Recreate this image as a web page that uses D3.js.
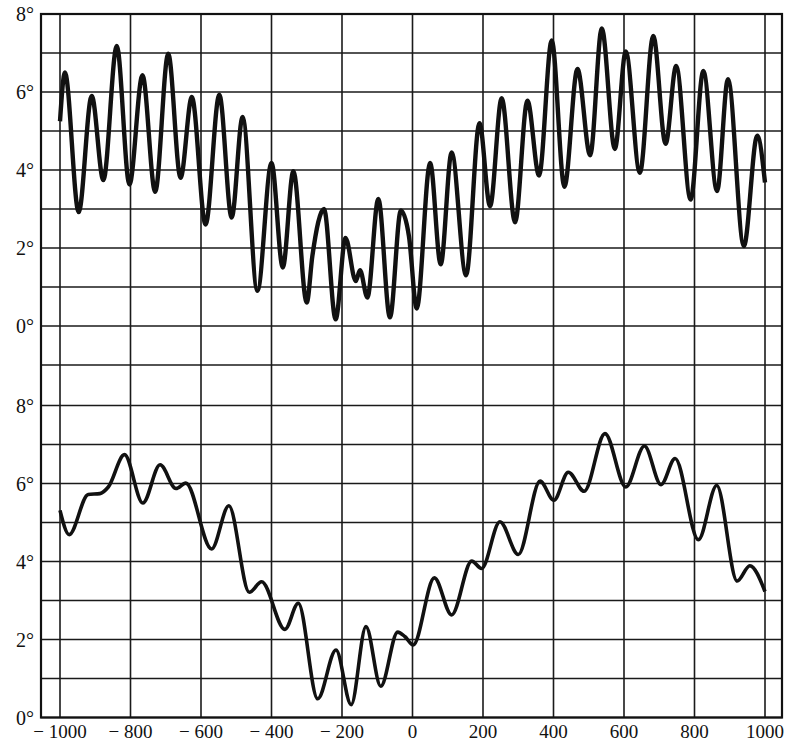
<!DOCTYPE html>
<html>
<head>
<meta charset="utf-8">
<script src="https://cdn.jsdelivr.net/npm/d3@7"></script>
<style>
  html, body { margin: 0; padding: 0; background: #fff; }
  svg { display: block; }
  text { font-family: "Liberation Serif", "DejaVu Serif", serif; fill: #111; }
</style>
</head>
<body>
<svg id="chart" width="800" height="747"></svg>
<script>
// ---------- data ----------
const xTickValues = [-1000, -800, -600, -400, -200, 0, 200, 400, 600, 800, 1000];
const xTickLabels = ["\u2212 1000", "\u2212 800", "\u2212 600", "\u2212 400", "\u2212 200", "0", "200", "400", "600", "800", "1000"];
const yTickValues = [0, 2, 4, 6, 8];
const yTickLabels = ["0\u00B0", "2\u00B0", "4\u00B0", "6\u00B0", "8\u00B0"];

// upper curve: year, degrees
const topYears = [-1000, -986, -947, -910, -877, -839, -803, -766, -730, -693, -658, -626, -587, -548, -513, -482, -440, -400, -368, -338, -300, -284, -251, -218, -190, -161, -149, -128, -97, -64, -33, -10, 12, 50, 80, 111, 152, 190, 220, 253, 291, 326, 359, 395, 431, 468, 504, 537, 574, 605, 645, 683, 718, 748, 789, 825, 864, 895, 940, 978, 1000];
const topValues = [5.25, 6.5, 2.92, 5.9, 3.74, 7.18, 3.63, 6.43, 3.44, 6.98, 3.8, 5.87, 2.6, 5.93, 2.78, 5.36, 0.9, 4.18, 1.5, 3.97, 0.6, 1.8, 3.0, 0.17, 2.26, 1.15, 1.43, 0.73, 3.26, 0.22, 2.96, 2.3, 0.45, 4.18, 1.58, 4.45, 1.3, 5.2, 3.07, 5.84, 2.66, 5.78, 3.86, 7.32, 3.57, 6.59, 4.38, 7.63, 4.54, 7.04, 3.93, 7.44, 4.67, 6.67, 3.24, 6.54, 3.46, 6.33, 2.05, 4.88, 3.68];

// lower curve: year, degrees
const bottomYears = [-1000, -974, -920, -887, -863, -817, -765, -716, -671, -643, -570, -521, -463, -428, -362, -324, -269, -217, -174, -132, -90, -42, -21, 2, 62, 111, 168, 196, 248, 300, 362, 401, 442, 487, 546, 605, 658, 705, 745, 811, 863, 921, 957, 1000];
const bottomValues = [5.31, 4.69, 5.72, 5.74, 5.91, 6.74, 5.5, 6.48, 5.87, 6.01, 4.32, 5.43, 3.21, 3.48, 2.26, 2.93, 0.48, 1.73, 0.33, 2.33, 0.8, 2.19, 2.07, 1.86, 3.58, 2.63, 4.01, 3.82, 5.02, 4.18, 6.06, 5.57, 6.29, 5.8, 7.28, 5.91, 6.96, 5.97, 6.64, 4.56, 5.95, 3.5, 3.89, 3.23];

// ---------- layout ----------
const svg = d3.select("#chart");
const x = d3.scaleLinear().domain([-1000, 1000]).range([60, 765]);
const yTop = d3.scaleLinear().domain([0, 8]).range([326, 14]);
const yBot = d3.scaleLinear().domain([0, 8]).range([717.5, 405.5]);
const frameLeft = 41, frameRight = 782, frameTop = yTop(8), frameBottom = yBot(0);

const grid = svg.append("g").attr("stroke", "#1a1a1a").attr("stroke-width", 1.6);

// horizontal grid lines
const hLines = [];
d3.range(0, 9).forEach(v => hLines.push(yTop(v)));
hLines.push(yTop(-1));
d3.range(0, 9).forEach(v => hLines.push(yBot(v)));
grid.selectAll("line.h").data(hLines).join("line")
  .attr("class", "h")
  .attr("x1", frameLeft).attr("x2", frameRight)
  .attr("y1", d => d).attr("y2", d => d);

// vertical grid lines
grid.selectAll("line.v").data(xTickValues).join("line")
  .attr("class", "v")
  .attr("x1", d => x(d)).attr("x2", d => x(d))
  .attr("y1", frameTop).attr("y2", frameBottom);

// frame
svg.append("rect")
  .attr("x", frameLeft).attr("y", frameTop)
  .attr("width", frameRight - frameLeft).attr("height", frameBottom - frameTop)
  .attr("fill", "none").attr("stroke", "#111").attr("stroke-width", 2.2);

// y labels
[yTop, yBot].forEach(sc => {
  svg.append("g").selectAll("text").data(yTickValues).join("text")
    .attr("x", 34)
    .attr("y", d => sc(d) + 7)
    .attr("text-anchor", "end")
    .attr("font-size", 20)
    .text((d, i) => yTickLabels[i]);
});

// x labels
svg.append("g").selectAll("text").data(xTickValues).join("text")
  .attr("x", d => x(d))
  .attr("y", 738)
  .attr("text-anchor", "middle")
  .attr("font-size", 19)
  .text((d, i) => xTickLabels[i]);

// curves
const topData = topYears.map((yr, i) => [yr, topValues[i]]);
const botData = bottomYears.map((yr, i) => [yr, bottomValues[i]]);

svg.append("path")
  .datum(topData)
  .attr("fill", "none").attr("stroke", "#111").attr("stroke-width", 4.4)
  .attr("stroke-linejoin", "round")
  .attr("d", d3.line().x(d => x(d[0])).y(d => yTop(d[1])).curve(d3.curveMonotoneX));

svg.append("path")
  .datum(botData)
  .attr("fill", "none").attr("stroke", "#111").attr("stroke-width", 3.6)
  .attr("stroke-linejoin", "round")
  .attr("d", d3.line().x(d => x(d[0])).y(d => yBot(d[1])).curve(d3.curveMonotoneX));
</script>
</body>
</html>
